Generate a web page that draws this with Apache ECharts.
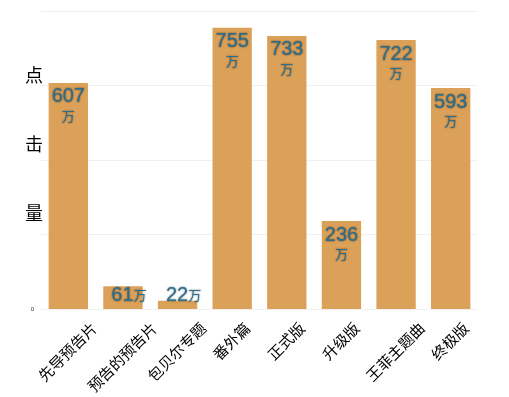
<!DOCTYPE html>
<html>
<head>
<meta charset="utf-8">
<script src="https://cdn.jsdelivr.net/npm/echarts@6/dist/echarts.min.js"></script>
<style>
  html, body { margin: 0; padding: 0; background: #fff; }
  #chart { width: 509px; height: 397px; }
</style>
</head>
<body>
<div id="chart"></div>
<script>
const categories = ['先导预告片', '预告的预告片', '包贝尔专题', '番外篇', '正式版', '升级版', '王菲主题曲', '终极版']
const clicks = [607, 61, 22, 755, 733, 236, 722, 593]
const yTicks = [0, 200, 400, 600, 800]

const chart = echarts.init(document.getElementById('chart'))

// rotated labels sit centred under their bar, so shift each by its own length
const catData = categories.map(name => {
  const len = name.length * 15
  return {
    value: name,
    textStyle: {
      align: 'center',
      verticalAlign: 'top',
      padding: [len / 4, len / 2 + 17, 0, 0]
    }
  }
})

// short bars get the value on one line near the bottom
const barData = clicks.map(v => {
  if (v >= 100) return v
  return {
    value: v,
    label: {
      position: 'insideBottom',
      distance: 4,
      offset: [6, 0],
      formatter: '{n|{c}}{u|万}'
    }
  }
})

const option = {
  animation: false,
  grid: { left: 41, right: 31, top: 11, bottom: 88, outerBoundsMode: 'none', containLabel: false },
  xAxis: {
    type: 'category',
    data: catData,
    axisLine: { show: false },
    axisTick: { show: false },
    axisLabel: {
      interval: 0,
      rotate: 45,
      margin: 5,
      fontSize: 15,
      color: '#000',
      fontFamily: 'Noto Sans CJK SC'
    }
  },
  yAxis: {
    type: 'value',
    min: yTicks[0],
    max: yTicks[yTicks.length - 1],
    interval: yTicks[1] - yTicks[0],
    name: '点\n击\n量',
    nameLocation: 'end',
    nameRotate: 0,
    nameGap: -30,
    nameMoveOverlap: false,
    nameTextStyle: {
      fontSize: 18,
      lineHeight: 69,
      color: '#000',
      align: 'right',
      verticalAlign: 'top',
      padding: [0, -2, 0, 0],
      fontFamily: 'Noto Sans CJK SC'
    },
    axisLine: { show: false },
    axisTick: { show: false },
    axisLabel: {
      fontSize: 6,
      margin: 7,
      color: '#333',
      formatter: v => (v === 0 ? '0' : '')
    },
    splitLine: { lineStyle: { color: '#f0f0f0' } }
  },
  series: [
    {
      type: 'bar',
      data: barData,
      barCategoryGap: '28%',
      itemStyle: { color: '#dca159' },
      label: {
        show: true,
        position: 'insideTop',
        distance: 4,
        formatter: '{n|{c}}\n{u|万}',
        color: '#2a6f90',
        textShadowColor: 'rgba(0,0,0,0.6)',
        textShadowBlur: 2,
        rich: {
          n: { fontSize: 20, lineHeight: 20, color: '#2a6f90', fontFamily: 'Liberation Sans' },
          u: { fontSize: 13, lineHeight: 18, color: '#2a6f90', fontFamily: 'Noto Sans CJK SC' }
        }
      }
    }
  ]
}

chart.setOption(option)
</script>
</body>
</html>
